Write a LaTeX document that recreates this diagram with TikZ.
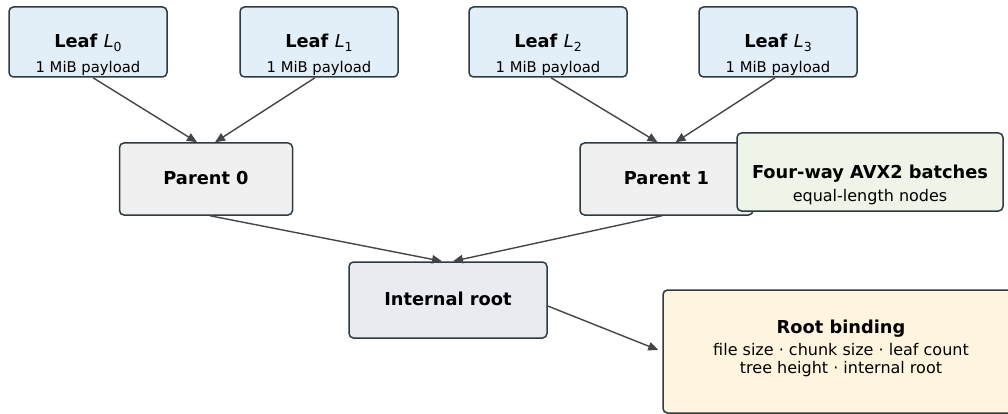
\documentclass[tikz,border=0pt]{standalone}
\usepackage{fontspec}
\setmainfont{DejaVu Sans}
\usetikzlibrary{arrows.meta,calc}
\definecolor{leaffill}{HTML}{E3EFF8}
\definecolor{parentfill}{HTML}{F0F0F0}
\definecolor{rootfill}{HTML}{E8EBEF}
\definecolor{greenfill}{HTML}{EEF5E8}
\definecolor{yellowfill}{HTML}{FFF5DF}
\definecolor{bordercol}{HTML}{2E3A42}
\definecolor{arrowcol}{HTML}{454545}
\newcommand\ttlfont{\fontsize{17.8}{21}\selectfont\bfseries}
\newcommand\bodyfont{\fontsize{16}{19}\selectfont}
\newcommand\leafbody{\fontsize{14.8}{18}\selectfont}
\newcommand\leafname[1]{\textbf{Leaf} {\mdseries\itshape L}\raisebox{-3.5pt}{\mdseries\upshape\fontsize{12.5}{12.5}\selectfont #1}}
\begin{document}
\begin{tikzpicture}[x=1pt,y=-1pt,
  box/.style={draw=bordercol, line width=1.5pt, rounded corners=4.5pt, inner sep=0pt},
  leafbox/.style={box, fill=leaffill, minimum width=158pt, minimum height=70pt},
  parbox/.style={box, fill=parentfill, minimum width=173pt, minimum height=72pt},
  txt/.style={anchor=base, inner sep=0pt},
  arr/.style={draw=arrowcol, line width=1.4pt, -{Triangle[length=10pt,width=8.5pt]}}]
\clip (0,0) rectangle (1008,414);
\useasboundingbox (0,0) rectangle (1008,414);
% leaves
\node[leafbox] (L0) at (88,42) {};
\node[leafbox] (L1) at (319,42) {};
\node[leafbox] (L2) at (548,42) {};
\node[leafbox] (L3) at (778,42) {};
\foreach \n/\i in {L0/0,L1/1,L2/2,L3/3}{
  \node[txt, font=\ttlfont] at ($(\n.center)+(0,6)$) {\leafname{\i}};
  \node[txt, font=\leafbody] at ($(\n.center)+(0,30.5)$) {1 MiB payload};
}
% parents
\node[parbox] (P0) at (206,179) {};
\node[txt, font=\ttlfont] at ($(P0.center)+(0,5.5)$) {Parent 0};
\node[parbox] (P1) at (666.5,179) {};
\node[txt, font=\ttlfont] at ($(P1.center)+(0,5.5)$) {Parent 1};
% AVX2 note
\node[box, fill=greenfill, minimum width=266pt, minimum height=78pt] (AVX) at (870,172) {};
\node[txt, font=\ttlfont] at ($(AVX.center)+(0,6.3)$) {Four-way AVX2 batches};
\node[txt, font=\bodyfont] at ($(AVX.center)+(0,29)$) {equal-length nodes};
% internal root
\node[box, fill=rootfill, minimum width=198pt, minimum height=76pt] (IR) at (448,300) {};
\node[txt, font=\ttlfont] at ($(IR.center)+(0,5)$) {Internal root};
% root binding
\node[box, fill=yellowfill, minimum width=356pt, minimum height=123pt] (RB) at (841,351.5) {};
\node[txt, font=\ttlfont] at ($(RB.center)+(0,-18.2)$) {Root binding};
\node[txt, font=\bodyfont] at ($(RB.center)+(0,4)$) {file size · chunk size · leaf count};
\node[txt, font=\bodyfont] at ($(RB.center)+(0,21.8)$) {tree height · internal root};
% connectors
\draw[arr] ($(L0.south)+(5,0)$) -- ($(P0.north)+(-9,0)$);
\draw[arr] ($(L1.south)+(-4,0)$) -- ($(P0.north)+(9,0)$);
\draw[arr] ($(L2.south)+(3,0)$) -- ($(P1.north)+(-9,0)$);
\draw[arr] ($(L3.south)+(-3,0)$) -- ($(P1.north)+(9,0)$);
\draw[arr] ($(P0.south)+(4,0)$) -- ($(IR.north)+(-6,0)$);
\draw[arr] ($(P1.south)+(-4.5,0)$) -- ($(IR.north)+(5,0)$);
\draw[arr] ($(IR.east)+(0,6)$) -- ($(RB.west)+(-4,-1.5)$);
\end{tikzpicture}
\end{document}
